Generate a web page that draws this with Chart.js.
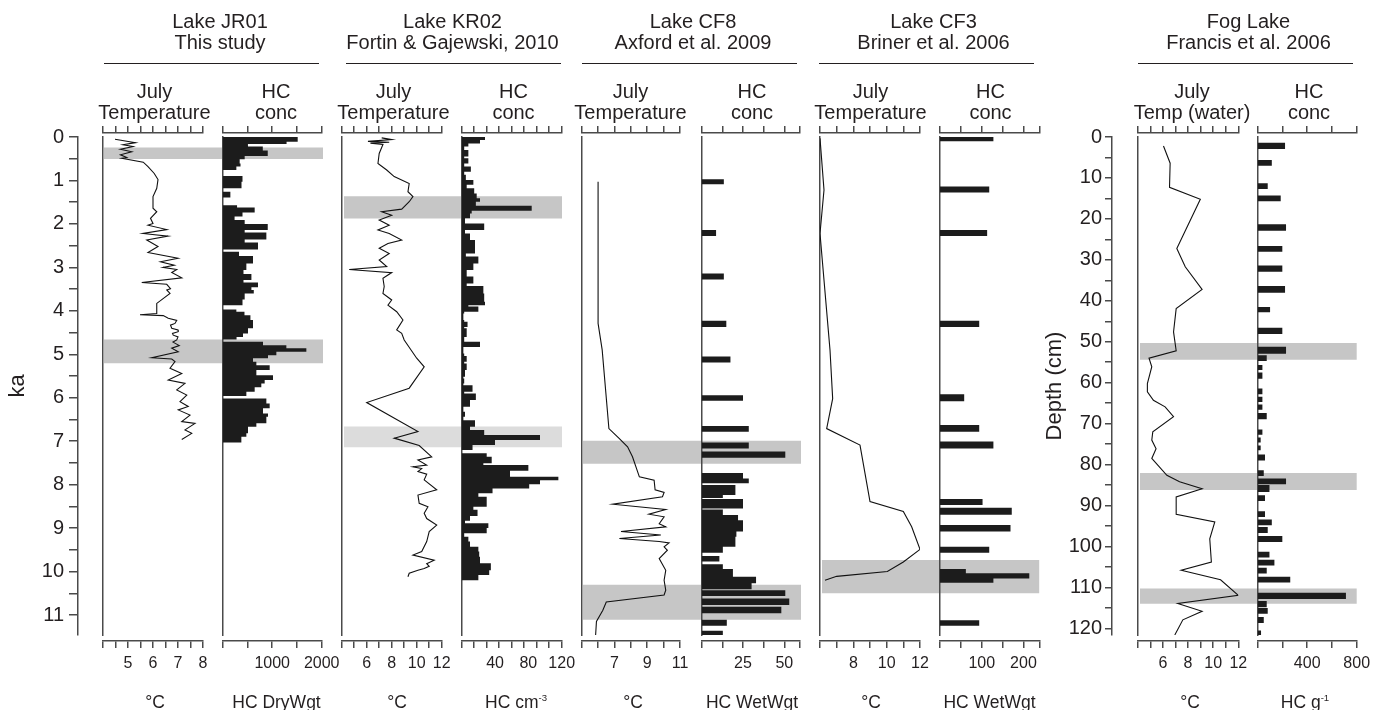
<!DOCTYPE html>
<html>
<head>
<meta charset="utf-8">
<script src="https://cdn.jsdelivr.net/npm/chart.js"></script>
<style>
  html, body { margin: 0; padding: 0; background: #fff; }
  #wrap { position: relative; width: 1384px; height: 710px; overflow: hidden;
          font-family: "Liberation Sans", Arial, Helvetica, sans-serif; color: #231f20; }
  #wrap canvas { position: absolute; left: 0; top: 0; }
  .txt { position: absolute; transform: translateX(-50%); text-align: center; white-space: nowrap; }
  .txt sup { font-size: 55%; vertical-align: 0.75em; line-height: 0; }
  .rule { position: absolute; height: 0; border-top: 1.5px solid #231f20; }
</style>
</head>
<body>
<div id="wrap"></div>
<script>
// ---- age / depth axes ----
const kaRange = [0, 11.46];
const kaLabels = [0, 1, 2, 3, 4, 5, 6, 7, 8, 9, 10, 11];
const depthRange = [0, 121.6];
const depthLabels = [0, 10, 20, 30, 40, 50, 60, 70, 80, 90, 100, 110, 120];

// ---- Lake JR01 (this study) ----
const jrTempKa = [0.05, 0.13, 0.18, 0.22, 0.28, 0.34, 0.41, 0.47, 0.49, 0.58, 0.68, 0.84, 0.98, 1.18, 1.37,
  1.64, 1.72, 1.87, 1.99, 2.03, 2.13, 2.22, 2.28, 2.37, 2.52, 2.66, 2.79, 2.87, 2.95, 3.00, 3.05, 3.12, 3.24,
  3.35, 3.39, 3.49, 3.52, 3.60, 3.83, 4.06, 4.09, 4.11, 4.17, 4.22, 4.29, 4.33, 4.40, 4.44, 4.48, 4.52, 4.56,
  4.60, 4.67, 4.72, 4.80, 4.86, 4.94, 5.08, 5.11, 5.17, 5.32, 5.44, 5.59, 5.67, 5.82, 5.94, 6.09, 6.20, 6.28,
  6.40, 6.55, 6.59, 6.74, 6.82, 6.96];
const jrTempC = [4.48, 5.30, 4.80, 5.20, 4.70, 5.15, 4.70, 4.95, 4.75, 5.61, 5.80, 6.05, 6.20, 6.15, 6.00,
  6.00, 6.15, 5.90, 6.00, 5.80, 6.55, 5.60, 6.60, 5.75, 6.20, 5.80, 7.00, 6.30, 6.85, 6.40, 6.95, 6.75, 7.15,
  5.55, 6.55, 6.70, 6.55, 6.68, 6.15, 6.15, 5.48, 6.41, 6.61, 6.95, 6.88, 6.70, 6.75, 7.00, 7.01, 6.78, 6.81,
  7.00, 6.95, 6.80, 7.05, 6.75, 7.01, 5.95, 6.75, 6.88, 6.68, 7.15, 6.61, 7.28, 6.95, 7.35, 7.08, 7.41, 7.01,
  7.48, 7.15, 7.68, 7.28, 7.55, 7.15];
const jrHcEdge = [0.00, 0.11, 0.16, 0.22, 0.31, 0.44, 0.51, 0.61, 0.68, 0.76, 0.90, 1.03, 1.18, 1.26, 1.39,
  1.57, 1.62, 1.74, 1.83, 1.91, 2.00, 2.14, 2.20, 2.36, 2.43, 2.59, 2.64, 2.74, 2.91, 3.06, 3.15, 3.29, 3.35,
  3.46, 3.52, 3.60, 3.74, 3.87, 3.97, 4.02, 4.10, 4.21, 4.40, 4.52, 4.60, 4.66, 4.71, 4.79, 4.86, 4.94, 5.02,
  5.09, 5.17, 5.25, 5.36, 5.48, 5.59, 5.67, 5.76, 5.86, 5.96, 6.02, 6.13, 6.24, 6.36, 6.44, 6.59, 6.67, 6.82,
  6.90, 7.03];
const jrHcDry = [1515, 1290, 510, 810, 910, 444, 343, 360, 276, null, 400, 380, null, 155, null, 290, 646, 400,
  240, 444, 910, 444, 882, 444, 713, null, 330, 612, 478, 420, 580, 420, 713, 580, 628, 444, 400, null, 276, 440,
  560, 612, 511, 410, 280, null, 814, 1286, 1690, 1084, 915, 612, 680, 949, 680, 1016, 848, 780, 646, 478, null,
  882, 949, 814, 915, 882, 680, 511, 478, 377];
const jrBands = [[0.25, 0.50], [4.67, 5.20]];
const jrTempLabels = [5, 6, 7, 8];
const jrHcLabels = [1000, 2000];

// ---- Lake KR02 (Fortin & Gajewski, 2010) ----
const krTempKa = [0.02, 0.06, 0.10, 0.12, 0.14, 0.17, 0.38, 0.61, 0.76, 0.91, 1.07, 1.26, 1.37, 1.49, 1.66,
  1.72, 1.80, 1.91, 2.03, 2.14, 2.22, 2.37, 2.45, 2.56, 2.68, 2.83, 2.98, 3.05, 3.12, 3.25, 3.44, 3.60, 3.75,
  3.87, 4.02, 4.21, 4.44, 4.52, 4.67, 5.09, 5.29, 5.78, 6.11, 6.78, 6.93, 7.10, 7.36, 7.43, 7.55, 7.59, 7.63,
  7.70, 7.76, 7.89, 8.12, 8.24, 8.43, 8.51, 8.66, 8.78, 8.93, 9.08, 9.31, 9.54, 9.62, 9.74, 9.82, 9.88, 9.93,
  9.97, 10.04, 10.12];
const krTempC = [7.2, 8.0, 6.1, 7.8, 6.3, 7.3, 7.0, 6.9, 7.6, 8.2, 9.4, 9.3, 9.7, 9.4, 8.8,
  7.2, 8.0, 7.0, 7.8, 6.9, 7.8, 8.8, 7.7, 7.0, 7.8, 7.0, 7.6, 4.6, 8.0, 7.3, 7.4, 7.3, 8.0,
  7.7, 8.4, 8.9, 8.4, 8.8, 9.0, 10.0, 10.6, 9.4, 6.0, 10.1, 8.2, 10.2, 11.2, 10.1, 10.8, 9.7, 10.4,
  10.1, 10.8, 10.6, 11.6, 10.1, 10.2, 10.9, 10.6, 10.8, 11.6, 11.0, 10.8, 10.4, 9.7, 11.4, 10.8, 11.0, 10.6,
  10.1, 9.4, 9.3];
const krHcEdge = [0.00, 0.07, 0.15, 0.22, 0.30, 0.45, 0.49, 0.61, 0.68, 0.80, 0.87, 0.99, 1.10, 1.18, 1.30,
  1.41, 1.49, 1.58, 1.70, 1.76, 1.87, 1.99, 2.14, 2.22, 2.37, 2.68, 2.75, 2.91, 3.06, 3.21, 3.37, 3.43, 3.60,
  3.79, 3.87, 3.90, 4.02, 4.06, 4.21, 4.25, 4.37, 4.40, 4.60, 4.71, 4.83, 4.98, 5.04, 5.17, 5.21, 5.36, 5.52,
  5.56, 5.67, 5.71, 5.86, 5.90, 6.05, 6.21, 6.32, 6.44, 6.52, 6.67, 6.74, 6.86, 6.97, 7.09, 7.20, 7.28, 7.36,
  7.51, 7.55, 7.68, 7.82, 7.90, 7.99, 8.09, 8.20, 8.28, 8.51, 8.58, 8.72, 8.83, 8.89, 9.00, 9.12, 9.20, 9.31,
  9.43, 9.54, 9.66, 9.81, 9.97, 10.08, 10.20];
const krHcCm3 = [28, 22, 8, 3, 8, 3, 8, 3, 11, 3, 5, 14, 6, 15, 18, 22, 17, 84, 12, 10, 4, 27, 4, 10, 16, 5, 20,
  14, 6, 14, 6, 26, 27, 28, 8, 20, 3, 2, 3, 7, 3, 6, 3, 22, 2, 3, 6, 3, 6, 4, 2, 3, 2, 13, 3, 17, 10, 2, 4, 2,
  16, 10, 27, 94, 40, 13, null, 30, 36, 26, 80, 58, 116, 94, 81, 37, 20, 30, 14, 19, 10, 4, 32, 30, 3, 8, 10,
  20, 21, 22, 35, 33, 20];
const krBands = [[1.37, 1.87], [6.67, 7.13]];
const krTempLabels = [6, 8, 10, 12];
const krHcLabels = [40, 80, 120];

// ---- Lake CF8 (Axford et al. 2009) ----
const cf8TempKa = [1.03, 4.29, 4.90, 6.71, 6.94, 7.13, 7.36, 7.82, 7.90, 8.12, 8.18, 8.28, 8.45, 8.57, 8.68,
  8.74, 8.90, 8.97, 9.08, 9.16, 9.24, 9.31, 9.34, 9.43, 9.51, 9.70, 9.97, 10.20, 10.43, 10.54, 10.70, 10.89,
  11.15, 11.46];
const cf8TempC = [6.0, 6.0, 6.25, 6.66, 7.3, 7.8, 8.1, 8.52, 9.42, 9.48, 10.03, 9.93, 6.9, 10.13, 9.1,
  10.03, 9.73, 10.13, 7.4, 9.83, 7.3, 9.73, 10.33, 10.03, 10.23, 9.73, 10.13, 10.03, 10.13, 10.03, 6.5, 6.29,
  5.9, 5.85];
const cf8HcEdge = [0.97, 1.09, 2.14, 2.28, 3.14, 3.28, 4.23, 4.37, 5.05, 5.19, 5.94, 6.07, 6.65, 6.78, 7.03,
  7.17, 7.24, 7.38, 7.73, 7.86, 7.97, 8.01, 8.24, 8.31, 8.33, 8.55, 8.57, 8.70, 8.82, 9.08, 9.20, 9.43, 9.57,
  9.64, 9.77, 9.83, 9.94, 10.12, 10.27, 10.41, 10.43, 10.56, 10.62, 10.77, 10.81, 10.96, 11.11, 11.25, 11.36,
  11.46];
const cf8HcWet = [13.4, null, 8.7, null, 13.4, null, 14.9, null, 17.4, null, 25, null, 28.5, null, 28.5, null,
  50.6, null, 25, 28.5, null, 20.4, 12.8, null, 25, null, 12.8, 22, 25, 21, 20.4, 12.8, null, 10.7, null, 12.8,
  18.9, 32.9, 30.2, null, 50.6, null, 53, null, 48.2, null, 15.2, null, 12.8];
const cf8Bands = [[7.00, 7.51], [10.31, 11.10]];
const cf8TempLabels = [7, 9, 11];
const cf8HcLabels = [25, 50];

// ---- Lake CF3 (Briner et al. 2006) ----
const cf3TempKa = [0.03, 1.22, 2.22, 4.90, 6.02, 6.71, 7.09, 8.39, 8.62, 8.97, 9.49, 9.78, 10.00, 10.11, 10.20];
const cf3TempC = [6.0, 6.24, 6.0, 6.6, 6.76, 6.4, 8.4, 9.0, 11.0, 11.5, 12.0, 11.0, 10.04, 7.0, 6.3];
const cf3HcEdge = [0.00, 0.10, 1.14, 1.28, 2.14, 2.28, 4.23, 4.37, 5.92, 6.08, 6.63, 6.78, 7.01, 7.17, 8.33,
  8.47, 8.53, 8.69, 8.93, 9.08, 9.43, 9.57, 9.94, 10.04, 10.16, 10.26, 11.12, 11.25];
const cf3HcWet = [128, null, 118, null, 113, null, 94, null, 58, null, 94, null, 128, null, 102, null, 172,
  null, 169, null, 118, null, 62, 214, 128, null, 94];
const cf3Bands = [[9.74, 10.49]];
const cf3TempLabels = [8, 10, 12];
const cf3HcLabels = [100, 200];

// ---- Fog Lake (Francis et al. 2006), depth in cm ----
const fogTempCm = [2.2, 6.4, 12.3, 15.2, 27.2, 31.7, 37.2, 41.9, 47.6, 52.2, 54.0, 56.1, 60.2, 62.2, 64.3,
  65.9, 68.3, 72.0, 74.0, 76.1, 78.5, 82.6, 84.2, 85.9, 87.9, 92.1, 94.0, 98.1, 103.8, 105.8, 108.1, 111.9,
  113.9, 115.8, 117.9, 121.6];
const fogTempC = [6.05, 6.58, 6.53, 8.98, 7.11, 7.78, 9.12, 7.06, 6.85, 7.06, 4.9, 5.12, 4.77, 4.77, 5.25,
  6.18, 6.85, 5.2, 5.12, 5.46, 5.12, 6.32, 7.33, 9.12, 7.06, 7.06, 10.13, 9.73, 9.86, 7.46, 10.59, 12.0,
  7.19, 9.12, 7.59, 6.95];
const fogHcTop = [1.4, 5.6, 11.3, 14.3, 21.3, 26.6, 31.4, 36.4, 41.5, 46.6, 51.2, 53.3, 55.7, 57.5, 61.4, 63.4,
  65.3, 67.4, 71.4, 73.4, 75.3, 77.5, 81.4, 83.4, 85.0, 87.5, 91.4, 93.4, 95.2, 97.4, 101.3, 103.2, 105.2,
  107.4, 111.3, 113.3, 115.0, 117.2, 120.5];
const fogHcBot = [2.9, 7.0, 12.7, 15.7, 22.9, 28.0, 32.9, 38.0, 42.8, 48.1, 52.9, 54.7, 56.9, 59.0, 62.8, 64.7,
  66.6, 68.9, 72.7, 74.6, 76.5, 79.0, 82.8, 84.8, 86.7, 88.9, 92.8, 94.8, 96.7, 98.9, 102.7, 104.6, 106.6,
  108.8, 112.8, 114.8, 116.4, 118.7, 121.6];
const fogHcG = [221, 114, 81, 186, 229, 199, 199, 221, 100, 199, 229, 73, 38, 38, 38, 38, 38, 73, 38, 24, 24,
  59, 49, 229, 95, 59, 59, 114, 81, 199, 95, 135, 73, 263, 713, 73, 81, 49, 27];
const fogBands = [[50.4, 54.3], [82.1, 86.1], [110.3, 113.9]];
const fogTempLabels = [6, 8, 10, 12];
const fogHcLabels = [400, 800];

// ---- page geometry and styles ----
const W = 1384, H = 710;
const PLOT_TOP = 137, PLOT_BOTTOM = 635;
const TOP_AXIS = 133, BOTTOM_AXIS = 641;
const INK = '#231f20', AXIS = '#4a4a4a', BAR = '#1c1c1c';
const BAND = '#c6c6c6', BAND_LIGHT = '#dcdcdc';
const FONT = '"Liberation Sans", Arial, Helvetica, sans-serif';

const panels = {
  jrT:  { x0: 103,    x1: 203,    min: 4, max: 8,    step: 0.5 },
  jrH:  { x0: 222.7,  x1: 321.7,  min: 0, max: 2000, step: 500 },
  krT:  { x0: 341.7,  x1: 441.7,  min: 4, max: 12,   step: 1 },
  krH:  { x0: 461.7,  x1: 561.7,  min: 0, max: 120,  step: 15 },
  cf8T: { x0: 581.7,  x1: 680,    min: 5, max: 11,   step: 1 },
  cf8H: { x0: 701.7,  x1: 800,    min: 0, max: 59.5, step: 12.5 },
  cf3T: { x0: 820,    x1: 920,    min: 6, max: 12,   step: 1 },
  cf3H: { x0: 940,    x1: 1039.3, min: 0, max: 238,  step: 50 },
  fogT: { x0: 1137.7, x1: 1238.3, min: 4, max: 12,   step: 1 },
  fogH: { x0: 1257.7, x1: 1356.7, min: 0, max: 800,  step: 200 }
};

Chart.defaults.font.family = FONT;
Chart.defaults.color = INK;

const wrap = document.getElementById('wrap');

function addCanvas() {
  const c = document.createElement('canvas');
  c.width = W;
  c.height = H;
  wrap.appendChild(c);
  return c;
}

function plotPadding(x0, x1) {
  return { left: x0, right: W - x1, top: PLOT_TOP, bottom: H - PLOT_BOTTOM };
}

const quiet = {
  responsive: false,
  animation: false,
  events: [],
  plugins: { legend: { display: false }, tooltip: { enabled: false } }
};

// value axes sit a few px off the plot frame, above and below;
// the bottom one keeps room under it so its labels are not clipped
const axisOffset = {
  id: 'axisOffset',
  afterLayout(chart) {
    const t = chart.scales.xt, b = chart.scales.xb;
    if (t) { t.top = TOP_AXIS - 10; t.bottom = TOP_AXIS; }
    if (b) { b.top = BOTTOM_AXIS; b.bottom = BOTTOM_AXIS + 45; }
  }
};

function valueAxis(pos, p, labels) {
  const marks = [];
  for (let v = p.min; v <= p.max + 1e-9; v += p.step) marks.push(+v.toFixed(6));
  if (marks[marks.length - 1] < p.max) marks.push(p.max);
  const all = [...new Set(marks.concat(labels))].sort((a, b) => a - b);
  return {
    type: 'linear', position: pos, min: p.min, max: p.max,
    afterFit: s => { s.height = 0; },
    afterBuildTicks: s => { s.ticks = all.map(v => ({ value: v })); },
    grid: {
      display: true, drawOnChartArea: false, tickLength: 7, lineWidth: 1.5, color: AXIS,
      tickColor: c => (c.tick && marks.includes(c.tick.value)) ? AXIS : 'rgba(0,0,0,0)'
    },
    border: { display: true, color: AXIS, width: 1.5 },
    ticks: {
      display: pos === 'bottom', autoSkip: false, maxRotation: 0, minRotation: 0, padding: 6,
      color: INK, font: { size: 16 },
      callback: v => labels.includes(v) ? String(v) : ''
    }
  };
}

function sideAxis(range, step, labels, title, width, tickLen, pad) {
  const marks = [];
  for (let v = range[0]; v <= labels[labels.length - 1] + 1e-9; v += step) marks.push(v);
  return {
    type: 'linear', position: 'left', reverse: true, min: range[0], max: range[1],
    afterFit: s => { s.width = width; },
    afterBuildTicks: s => { s.ticks = marks.map(v => ({ value: v })); },
    grid: { display: true, drawOnChartArea: false, tickLength: tickLen, color: AXIS, lineWidth: 1.5 },
    border: { color: AXIS, width: 1.5 },
    ticks: { autoSkip: false, padding: pad, color: INK, font: { size: 20 },
             callback: v => labels.includes(v) ? String(v) : '' },
    title: { display: true, text: title, color: INK, font: { size: 22 }, padding: { top: 5, bottom: 0 } }
  };
}

function sideChart(left, width, range, step, labels, title, tickLen, pad) {
  new Chart(addCanvas(), {
    type: 'scatter',
    data: { datasets: [] },
    options: {
      ...quiet,
      layout: { padding: { left: left, right: W - (left + width) - 4, top: PLOT_TOP, bottom: H - PLOT_BOTTOM } },
      scales: {
        x: { display: false, min: 0, max: 1 },
        y: sideAxis(range, step, labels, title, width, tickLen, pad)
      }
    }
  });
}

function bandChart(x0, x1, range, spans, colors) {
  new Chart(addCanvas(), {
    type: 'bar',
    data: {
      labels: [''],
      datasets: spans.map((s, i) => ({
        data: [s], backgroundColor: colors[i] || BAND, borderWidth: 0,
        barPercentage: 1, categoryPercentage: 1, grouped: false
      }))
    },
    options: {
      ...quiet,
      layout: { padding: plotPadding(x0, x1) },
      scales: {
        x: { display: false },
        y: { display: false, reverse: true, min: range[0], max: range[1] }
      }
    }
  });
}

function curve(temps, depths) {
  return {
    data: depths.map((d, i) => ({ x: temps[i], y: d })),
    xAxisID: 'xb', yAxisID: 'y',
    showLine: true, borderColor: '#111', borderWidth: 1.1, pointRadius: 0, fill: false, tension: 0
  };
}

// closed outline of the stepped bars, filled as one shape
function bars(tops, bots, vals) {
  const pts = [];
  vals.forEach((v, i) => {
    if (v == null) return;
    pts.push({ x: 0, y: tops[i] }, { x: v, y: tops[i] }, { x: v, y: bots[i] }, { x: 0, y: bots[i] });
  });
  return {
    data: pts, xAxisID: 'xb', yAxisID: 'y',
    showLine: true, fill: 'shape', backgroundColor: BAR, borderWidth: 0, pointRadius: 0
  };
}

function fromEdges(edges, vals) {
  return bars(edges.slice(0, -1), edges.slice(1), vals);
}

function panel(p, labels, range, dataset) {
  new Chart(addCanvas(), {
    type: 'scatter',
    data: { datasets: [dataset] },
    options: {
      ...quiet,
      layout: { padding: plotPadding(p.x0, p.x1) },
      scales: {
        xt: valueAxis('top', p, labels),
        xb: valueAxis('bottom', p, labels),
        y: {
          type: 'linear', position: 'left', reverse: true, min: range[0], max: range[1],
          afterFit: s => { s.width = 0; },
          ticks: { display: false }, grid: { display: false },
          border: { color: AXIS, width: 1.5 }
        }
      }
    },
    plugins: [axisOffset]
  });
}

// shaded intervals behind each record pair
bandChart(104, 323, kaRange, jrBands, [BAND, BAND]);
bandChart(344, 562, kaRange, krBands, [BAND, BAND_LIGHT]);
bandChart(583, 801, kaRange, cf8Bands, [BAND, BAND]);
bandChart(822, 1039.3, kaRange, cf3Bands, [BAND]);
bandChart(1140, 1356.7, depthRange, fogBands, [BAND, BAND, BAND]);

// age and depth axes
sideChart(0, 78, kaRange, 0.5, kaLabels, 'ka', 9, 5);
sideChart(1036.8, 74.9, depthRange, 5, depthLabels, 'Depth (cm)', 6.7, 3);

// records
panel(panels.jrT, jrTempLabels, kaRange, curve(jrTempC, jrTempKa));
panel(panels.jrH, jrHcLabels, kaRange, fromEdges(jrHcEdge, jrHcDry));
panel(panels.krT, krTempLabels, kaRange, curve(krTempC, krTempKa));
panel(panels.krH, krHcLabels, kaRange, fromEdges(krHcEdge, krHcCm3));
panel(panels.cf8T, cf8TempLabels, kaRange, curve(cf8TempC, cf8TempKa));
panel(panels.cf8H, cf8HcLabels, kaRange, fromEdges(cf8HcEdge, cf8HcWet));
panel(panels.cf3T, cf3TempLabels, kaRange, curve(cf3TempC, cf3TempKa));
panel(panels.cf3H, cf3HcLabels, kaRange, fromEdges(cf3HcEdge, cf3HcWet));
panel(panels.fogT, fogTempLabels, depthRange, curve(fogTempC, fogTempCm));
panel(panels.fogH, fogHcLabels, depthRange, bars(fogHcTop, fogHcBot, fogHcG));

// headings
function text(html, cx, top, size, lh) {
  const d = document.createElement('div');
  d.className = 'txt';
  d.innerHTML = html;
  d.style.left = cx + 'px';
  d.style.top = top + 'px';
  d.style.fontSize = size + 'px';
  d.style.lineHeight = lh + 'px';
  wrap.appendChild(d);
}

function rule(x0, x1, y) {
  const d = document.createElement('div');
  d.className = 'rule';
  d.style.left = x0 + 'px';
  d.style.width = (x1 - x0) + 'px';
  d.style.top = y + 'px';
  wrap.appendChild(d);
}

const lakes = [
  { name: 'Lake JR01', ref: 'This study', cx: 220, r0: 104, r1: 319,
    t: 154.5, h: 276, tempHead: 'Temperature', hcUnit: 'HC DryWgt', ut: 155, uh: 276.5 },
  { name: 'Lake KR02', ref: 'Fortin &amp; Gajewski, 2010', cx: 452.5, r0: 346, r1: 560.7,
    t: 393.5, h: 513.5, tempHead: 'Temperature', hcUnit: 'HC cm<sup>-3</sup>', ut: 397, uh: 516 },
  { name: 'Lake CF8', ref: 'Axford et al. 2009', cx: 693, r0: 581.7, r1: 796.7,
    t: 630.5, h: 752, tempHead: 'Temperature', hcUnit: 'HC WetWgt', ut: 633, uh: 752 },
  { name: 'Lake CF3', ref: 'Briner et al. 2006', cx: 933.5, r0: 819.3, r1: 1034.3,
    t: 870.5, h: 990.5, tempHead: 'Temperature', hcUnit: 'HC WetWgt', ut: 871, uh: 989.5 },
  { name: 'Fog Lake', ref: 'Francis et al. 2006', cx: 1248.5, r0: 1138.3, r1: 1353.3,
    t: 1192, h: 1309, tempHead: 'Temp (water)', hcUnit: 'HC g<sup>-1</sup>', ut: 1190, uh: 1305 }
];

lakes.forEach(l => {
  text(l.name + '<br>' + l.ref, l.cx, 10.9, 20, 21.6);
  rule(l.r0, l.r1, 63.3);
  text('July<br>' + l.tempHead, l.t, 80.9, 20, 21.6);
  text('HC<br>conc', l.h, 80.9, 20, 21.6);
  text('&deg;C', l.ut, 691.5, 17.5, 21);
  text(l.hcUnit, l.uh, 691.5, 17.5, 21);
});
</script>
</body>
</html>
